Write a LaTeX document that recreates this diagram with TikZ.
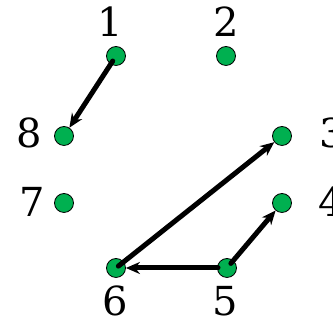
\documentclass[tikz,border=0pt]{standalone}
\usepackage{fontspec}
\setmainfont{DejaVu Serif}
\usetikzlibrary{arrows.meta}
\definecolor{dotgreen}{RGB}{0,176,80}
\begin{document}
\begin{tikzpicture}[x=1pt,y=1pt,line join=round,line cap=round,
		>={Stealth[length=14pt,width=12pt]},
		dot/.style={circle,draw=black,line width=0.8pt,fill=dotgreen,minimum size=19pt,inner sep=0pt},
		lbl/.style={font=\fontsize{40}{40}\selectfont,inner sep=0pt,anchor=base},
		arr/.style={->,line width=5pt}]
		\useasboundingbox (0,0) rectangle (333,320);
		% Điểm
		\node[dot] (p1) at (116,264) {};
		\node[dot] (p2) at (226,264) {};
		\node[dot] (p3) at (282,184) {};
		\node[dot] (p4) at (282,117) {};
		\node[dot] (p5) at (227,52) {};
		\node[dot] (p6) at (116,52) {};
		\node[dot] (p7) at (64,117) {};
		\node[dot] (p8) at (64,184) {};
		% Nhãn
		\node[lbl] (l1) at (110,283) {1};
		\node[lbl] (l2) at (226,283) {2};
		\node[lbl,anchor=base west] (l3) at (319,172) {3};
		\node[lbl,anchor=base west] (l4) at (318,103) {4};
		\node[lbl] (l5) at (225,4) {5};
		\node[lbl] (l6) at (115,4) {6};
		\node[lbl] (l7) at (32,103) {7};
		\node[lbl] (l8) at (29,172) {8};
		% Mũi tên
		\draw[arr,shorten <=6pt] (p1.center) -- (p8);
		\draw[arr,shorten <=3pt] (p6.center) -- (p3);
		\draw[arr,shorten <=6pt] (p5.center) -- (p4);
		\draw[arr,shorten <=9pt] (p5.center) -- (p6);
\end{tikzpicture}
\end{document}
